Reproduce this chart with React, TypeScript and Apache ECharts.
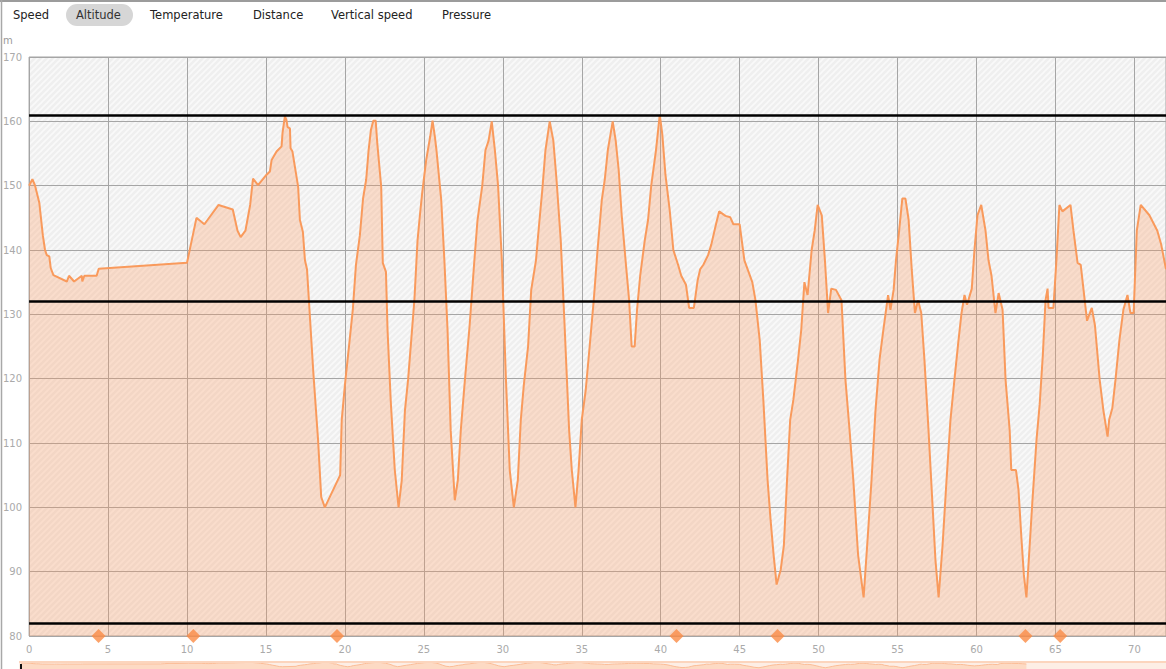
import React, { useEffect, useRef } from "react";
import * as echarts from "echarts";

// Distance along the track (km) and altitude (m)
const distanceKm = [
  0, 0.21, 0.38, 0.65, 0.87, 1.01, 1.12, 1.28, 1.37, 1.54, 2.39, 2.53, 2.85, 3.34, 3.37, 3.5, 4.28, 4.41,
  10.0, 10.3, 10.6, 11.1, 12.0, 12.9, 13.2, 13.4, 13.7, 14.0, 14.18, 14.5, 15.04, 15.25, 15.36, 15.67, 15.99,
  16.05, 16.2, 16.3, 16.37, 16.52, 16.56, 16.68, 16.83, 17.04, 17.15, 17.34, 17.47, 17.6, 17.8, 18.0, 18.3,
  18.5, 18.73, 19.7, 19.8, 20.0, 20.3, 20.5, 20.7, 20.95, 21.15, 21.35, 21.5, 21.65, 21.8, 21.95, 22.05,
  22.3, 22.4, 22.6, 22.7, 22.9, 23.16, 23.4, 23.6, 23.8, 24.0, 24.2, 24.4, 24.6, 24.75, 24.9, 25.15, 25.4,
  25.55, 25.7, 25.8, 26.1, 26.3, 26.5, 26.7, 26.96, 27.15, 27.34, 27.6, 27.9, 28.2, 28.4, 28.7, 28.9, 29.1,
  29.3, 29.5, 29.7, 29.94, 30.2, 30.44, 30.7, 30.95, 31.14, 31.33, 31.6, 31.8, 32.1, 32.3, 32.5, 32.7, 32.97,
  33.2, 33.4, 33.67, 33.9, 34.2, 34.37, 34.6, 34.8, 35.0, 35.25, 35.5, 35.76, 36.0, 36.27, 36.46, 36.65,
  36.96, 37.15, 37.34, 37.53, 37.8, 38.0, 38.16, 38.35, 38.5, 38.7, 38.99, 39.2, 39.4, 39.7, 39.94, 40.1,
  40.3, 40.57, 40.8, 41.1, 41.3, 41.6, 41.8, 42.1, 42.34, 42.5, 42.7, 43.0, 43.2, 43.5, 43.7, 44.1, 44.4,
  44.6, 45.0, 45.3, 45.8, 46.0, 46.27, 46.5, 46.77, 46.96, 47.15, 47.34, 47.6, 47.8, 48.0, 48.2, 48.4, 48.7,
  48.9, 49.1, 49.3, 49.56, 49.75, 49.94, 50.2, 50.4, 50.6, 50.8, 51.1, 51.45, 51.7, 51.96, 52.2, 52.5,
  52.85, 53.1, 53.35, 53.6, 53.86, 54.1, 54.4, 54.55, 54.75, 54.9, 55.1, 55.3, 55.5, 55.7, 55.9, 56.1,
  56.3, 56.5, 56.7, 56.96, 57.2, 57.4, 57.6, 57.85, 58.1, 58.35, 58.6, 58.86, 59.05, 59.24, 59.4, 59.7,
  59.87, 60.06, 60.3, 60.57, 60.76, 60.95, 61.2, 61.4, 61.65, 61.84, 62.1, 62.2, 62.5, 62.66, 62.85, 63.0,
  63.16, 63.35, 63.54, 63.8, 64.0, 64.2, 64.37, 64.5, 64.56, 64.87, 65.06, 65.25, 65.44, 65.95, 66.14,
  66.4, 66.6, 67.0, 67.3, 67.5, 67.8, 68.04, 68.3, 68.4, 68.6, 68.8, 69.05, 69.3, 69.56, 69.75, 69.95,
  70.15, 70.4, 70.95, 71.45, 71.7, 72.0,
];

const altitudeM = [
  150, 151, 150, 147.3, 142.3, 140, 139.2, 139, 137.2, 136.1, 135.1, 136, 135.1, 136, 135.1, 136, 136, 137.1,
  138, 141.5, 145, 144, 147, 146.3, 143, 142, 143, 147, 151.1, 150.1, 151.7, 152.2, 154, 155.3, 156.1,
  158.2, 160.8, 160.2, 159.1, 158.9, 155.8, 155.3, 153, 149.8, 144.7, 142.8, 138.4, 137, 129, 121, 110.5,
  101.6, 100, 105, 113.6, 119, 126, 130.7, 137.7, 142.3, 148, 151, 155.5, 158.7, 160.1, 160.1, 156.6,
  149.8, 138, 136.6, 127.6, 116.7, 105.8, 100, 104.2, 115, 119.8, 126, 132.2, 141.5, 145.4, 149, 154, 157.6,
  160.1, 157.6, 155.5, 147.8, 138.4, 127.6, 112, 101.1, 104.2, 112, 119.8, 128.3, 138.4, 144.7, 150, 155.5, 157,
  160, 155.5, 150, 138.4, 119.8, 105.8, 100, 104.2, 113.6, 119, 125, 133.8, 138.4, 144, 149.3, 155.5, 160,
  157, 151, 141.5, 129, 112, 105.8, 100, 105.8, 113.6, 118.2, 125, 132.2, 140, 147.8, 151, 155.5,
  160, 157, 152.4, 145.4, 137.7, 132.2, 125, 125, 130.7, 136, 141.5, 144.7, 150, 155.5, 161, 158,
  151.7, 146.2, 140, 137.7, 136, 134.6, 131, 131, 135.3, 137, 137.7, 139.2, 140.8, 144, 146, 145.3, 145.1,
  144, 144, 138.4, 135, 132.2, 126, 116.7, 104.2, 98, 92.6, 88, 90.3, 94.1, 104.2, 113.6, 116.7, 123,
  127.6, 135, 133, 140, 143, 147, 145.4, 138.4, 130.2, 134, 133.8, 132.2, 119.8, 112, 104.2, 92.6,
  86, 95, 104.2, 115, 123, 127.6, 133, 130.7, 133.8, 138.4, 143, 148, 148, 144.7, 136.9, 130.2,
  132.2, 130.2, 123, 112, 101, 91.8, 86, 94.1, 104.2, 113.6, 119.8, 126, 130.2, 133, 131.5, 134,
  140, 145.4, 147, 143, 138.4, 136, 130.2, 133.3, 130.7, 119.8, 112, 105.8, 105.8, 102.7, 95, 89.5,
  86, 93.4, 101, 110.5, 116, 123.7, 132.2, 134, 131, 131, 138.4, 147, 146, 147, 143,
  138, 137.7, 129, 131, 128.3, 119.8, 115, 111, 113.6, 115.4, 119.8, 126, 130.7, 133, 130.2, 130.2,
  143, 147, 145.4, 143, 140.8, 137,
];

const markerKm = [4.4, 10.4, 19.5, 41.0, 47.4, 63.1, 65.3];
const referenceAltitudes = [161, 132, 82];
const tabLabels = ["Speed", "Altitude", "Temperature", "Distance", "Vertical speed", "Pressure"];
const activeTab = "Altitude";
const yAxisUnit = "m";

// layout (pixels)
const TAB_X = [13, 76, 150, 253, 331, 442];
const GRID = { left: 29, top: 57, width: 1139, height: 579 };

function makeHatch(base: string, stripe: string): string {
  const c = document.createElement("canvas");
  c.width = 6;
  c.height = 6;
  const g = c.getContext("2d")!;
  g.fillStyle = base;
  g.fillRect(0, 0, 6, 6);
  g.strokeStyle = stripe;
  g.lineWidth = 1.6;
  g.beginPath();
  g.moveTo(0, 6);
  g.lineTo(6, 0);
  g.moveTo(-3, 3);
  g.lineTo(3, -3);
  g.moveTo(3, 9);
  g.lineTo(9, 3);
  g.stroke();
  return c.toDataURL();
}

export default function App() {
  const ref = useRef<HTMLDivElement>(null);

  useEffect(() => {
    if (!ref.current) return;
    const chart = echarts.init(ref.current, undefined, { renderer: "svg" });
    const hatch = makeHatch("#efefef", "#f9f9f9");
    const points = distanceKm.map((d, i) => [d, altitudeM[i]]);
    const font = "DejaVu Sans";

    const graphics: any[] = [
      {
        type: "rect",
        z: -10,
        silent: true,
        shape: { x: GRID.left, y: GRID.top, width: GRID.width, height: GRID.height },
        style: { fill: { image: hatch, repeat: "repeat", imageWidth: 6, imageHeight: 6 } },
      },
      {
        type: "rect",
        z: -10,
        silent: true,
        shape: { x: 19, y: 661, width: 1147, height: 10 },
        style: { fill: "#fdeee5" },
      },
      {
        type: "line",
        z: 10,
        silent: true,
        shape: { x1: 19, y1: 662, x2: 1166, y2: 662 },
        style: { stroke: "#fcd5bd", lineWidth: 2 },
      },
      {
        type: "rect",
        z: 10,
        silent: true,
        shape: { x: 20, y: 664, width: 2, height: 6 },
        style: { fill: "#111" },
      },
      {
        type: "line",
        silent: true,
        shape: { x1: 0, y1: 1, x2: 1166, y2: 1 },
        style: { stroke: "#9c9c9c", lineWidth: 2 },
      },
      {
        type: "line",
        silent: true,
        shape: { x1: 1.5, y1: 0, x2: 1.5, y2: 669 },
        style: { stroke: "#a8a8a8", lineWidth: 1.5 },
      },
      {
        type: "rect",
        silent: true,
        shape: { x: 66, y: 4, width: 67, height: 22, r: 11 },
        style: { fill: "#d6d6d6" },
      },
      {
        type: "text",
        silent: true,
        x: 3,
        y: 40,
        style: { text: yAxisUnit, fill: "#999", fontSize: 10, fontFamily: font, verticalAlign: "middle" },
      },
    ];
    tabLabels.forEach((t, i) => {
      graphics.push({
        type: "text",
        silent: true,
        x: TAB_X[i],
        y: 15,
        style: {
          text: t,
          fill: t === activeTab ? "#333" : "#222",
          fontSize: 11.5,
          fontFamily: font,
          verticalAlign: "middle",
        },
      });
    });

    chart.setOption({
      animation: false,
      graphic: graphics,
      grid: [
        {
          left: GRID.left,
          top: GRID.top,
          width: GRID.width,
          height: GRID.height,
          show: true,
          borderColor: "#a5a5a5",
          borderWidth: 1,
          backgroundColor: "transparent",
        },
        { left: 21, top: 662, width: 1145, height: 60 },
      ],
      xAxis: [
        {
          type: "value",
          gridIndex: 0,
          min: 0,
          max: 72,
          interval: 5,
          axisLine: { show: false },
          axisTick: { show: false },
          axisLabel: { color: "#aaa", fontSize: 10, fontFamily: font, margin: 8, showMaxLabel: false },
          splitLine: { show: true, lineStyle: { color: "#a5a5a5", width: 1 } },
        },
        { type: "value", gridIndex: 1, min: 0, max: 82, show: false },
      ],
      yAxis: [
        {
          type: "value",
          gridIndex: 0,
          min: 80,
          max: 170,
          interval: 10,
          axisLine: { show: false },
          axisTick: { show: false },
          axisLabel: { color: "#aaa", fontSize: 10, fontFamily: font, margin: 7 },
          splitLine: { show: true, lineStyle: { color: "#a5a5a5", width: 1 } },
        },
        { type: "value", gridIndex: 1, min: -40, max: 164, show: false },
      ],
      series: [
        {
          type: "line",
          xAxisIndex: 0,
          yAxisIndex: 0,
          data: points,
          symbol: "none",
          z: 2,
          lineStyle: { color: "#f99a5c", width: 2 },
          areaStyle: { color: "rgba(255,152,88,0.4)", origin: "start" },
          markLine: {
            silent: true,
            symbol: ["none", "none"],
            label: { show: false },
            lineStyle: { color: "#000", width: 2.5, type: "solid" },
            data: referenceAltitudes.map((v) => ({ yAxis: v })),
          },
        },
        {
          type: "scatter",
          xAxisIndex: 0,
          yAxisIndex: 0,
          data: markerKm.map((x) => [x, 80]),
          symbol: "diamond",
          symbolSize: 14,
          clip: false,
          z: 5,
          itemStyle: { color: "#fa8b45" },
        },
        {
          type: "line",
          xAxisIndex: 1,
          yAxisIndex: 1,
          data: points,
          symbol: "none",
          silent: true,
          lineStyle: { color: "#fbbd97", width: 1 },
          areaStyle: { color: "#fcd2b6", origin: "start" },
        },
      ],
    });

    return () => chart.dispose();
  }, []);

  return (
    <div
      ref={ref}
      style={{ position: "fixed", left: 0, top: 0, width: 1166, height: 669, background: "#fff" }}
    />
  );
}
